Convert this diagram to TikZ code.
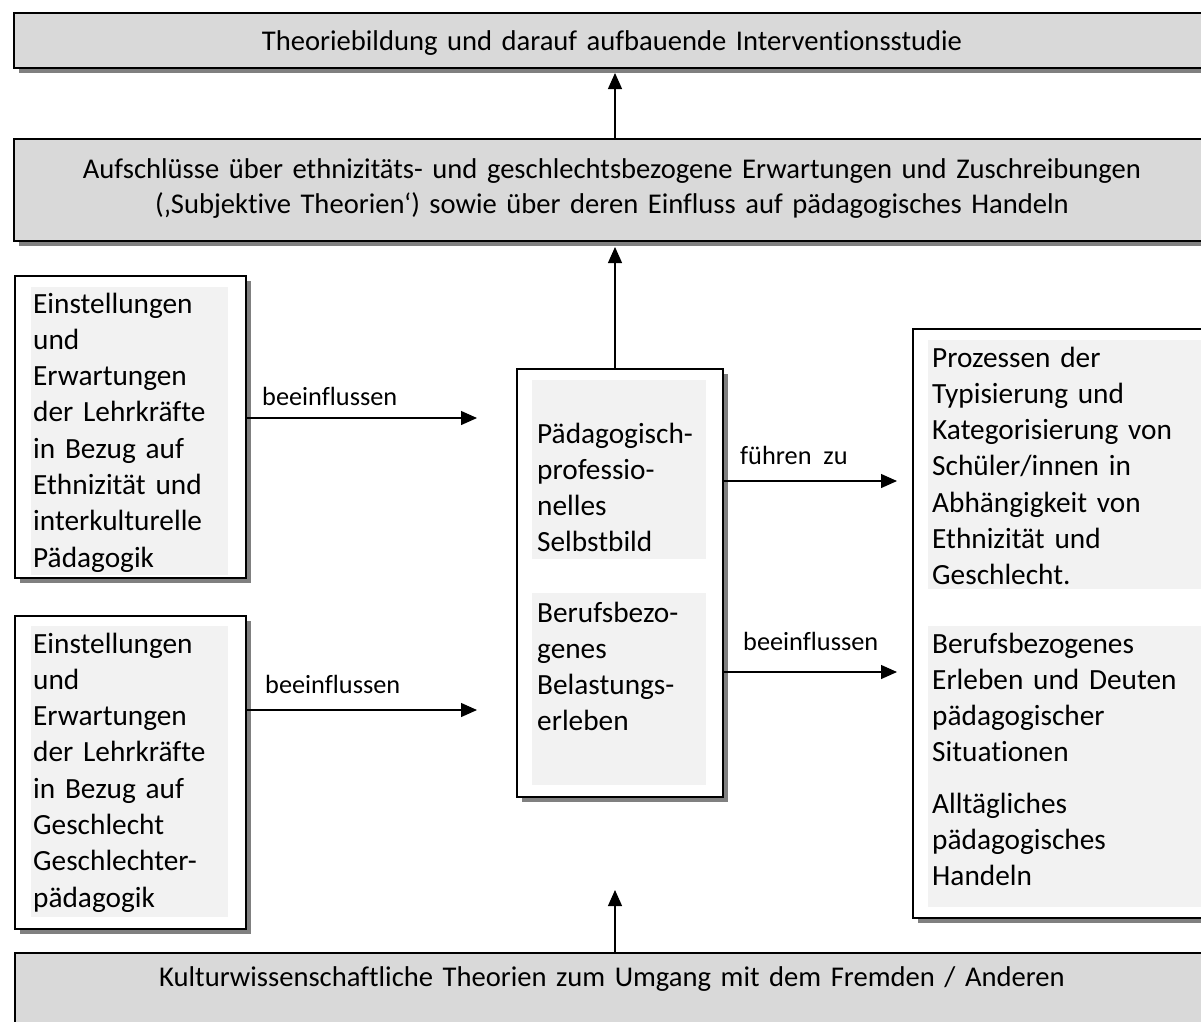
\documentclass[tikz,border=0pt]{standalone}
\usepackage{fontspec}
\setmainfont{Carlito}[Ligatures=NoCommon]
\usetikzlibrary{arrows.meta,shadows}
\definecolor{boxgray}{HTML}{D9D9D9}
\definecolor{innergray}{HTML}{F2F2F2}
\definecolor{shadowgray}{HTML}{808080}
\tikzset{
  outerbox/.style={draw=black, line width=1.5pt, inner sep=0pt, anchor=north west,
    drop shadow={shadow xshift=5pt, shadow yshift=-5pt, fill=shadowgray, opacity=1}},
  graybox/.style={outerbox, fill=boxgray},
  whitebox/.style={outerbox, fill=white},
  innerbox/.style={fill=innergray, draw=none, inner sep=0pt, anchor=north west},
  bodytext/.style={anchor=base west, inner sep=0pt, text width=#1, align=left,
    font=\fontsize{29.3}{36.3}\selectfont},
  headtext/.style={anchor=base, inner sep=0pt, text width=1180pt, align=center,
    font=\fontsize{28.6}{35}\selectfont},
  lbl/.style={anchor=base west, inner sep=0pt, font=\fontsize{26.3}{32}\selectfont},
  arr/.style={line width=1.2pt, -{Triangle[length=16pt,width=14pt]}},
}
\begin{document}
\begin{tikzpicture}[x=1pt,y=-1pt]
\clip (0,0) rectangle (1201,1021);
\fill[white] (0,0) rectangle (1201,1021);

% top boxes
\node[graybox, minimum width=1198pt, minimum height=55pt] (theory) at (13,12) {};
\node[headtext] (theoryt) at (612,50) {Theoriebildung und darauf aufbauende Interventionsstudie};

\node[graybox, minimum width=1198pt, minimum height=102pt] (insight) at (13,138) {};
\node[headtext] (insightt) at (612,178) {Aufschlüsse über ethnizitäts- und geschlechtsbezogene Erwartungen und Zuschreibungen\\(‚Subjektive Theorien‘) sowie über deren Einfluss auf pädagogisches Handeln};

% bottom box
\node[graybox, minimum width=1198pt, minimum height=90pt] (kultur) at (14,952) {};
\node[headtext] (kulturt) at (612,986) {Kulturwissenschaftliche Theorien zum Umgang mit dem Fremden / Anderen};

% left box 1
\node[whitebox, minimum width=231pt, minimum height=302pt] (lb1) at (14,275) {};
\node[innerbox, minimum width=197pt, minimum height=288pt] (lb1in) at (31,287) {};
\node[bodytext=195pt] (lb1t) at (33,313) {Einstellungen\\und\\Erwartungen\\der Lehrkräfte\\in Bezug auf\\Ethnizität und\\interkulturelle\\Pädagogik};

% left box 2
\node[whitebox, minimum width=231pt, minimum height=313pt] (lb2) at (14,615) {};
\node[innerbox, minimum width=197pt, minimum height=291pt] (lb2in) at (31,626) {};
\node[bodytext=195pt] (lb2t) at (33,653) {Einstellungen\\und\\Erwartungen\\der Lehrkräfte\\in Bezug auf\\Geschlecht\\Geschlechter-\\pädagogik};

% center box
\node[whitebox, minimum width=206pt, minimum height=428pt] (cb) at (516,368) {};
\node[innerbox, minimum width=174pt, minimum height=179pt] (cbin1) at (532,380) {};
\node[innerbox, minimum width=174pt, minimum height=192pt] (cbin2) at (532,593) {};
\node[bodytext=170pt] (cbt1) at (537,443) {Pädagogisch-\\professio-\\nelles\\Selbstbild};
\node[bodytext=170pt] (cbt2) at (537,622) {Berufsbezo-\\genes\\Belastungs-\\erleben};

% right box
\node[whitebox, minimum width=308pt, minimum height=589pt] (rb) at (912,328) {};
\node[innerbox, minimum width=280pt, minimum height=249pt] (rbin1) at (928,340) {};
\node[innerbox, minimum width=280pt, minimum height=281pt] (rbin2) at (928,626) {};
\node[bodytext=265pt] (rbt1) at (932,367) {Prozessen der\\Typisierung und\\Kategorisierung von\\Schüler/innen in\\Abhängigkeit von\\Ethnizität und\\Geschlecht.};
\node[bodytext=265pt] (rbt2) at (932,653) {Berufsbezogenes\\Erleben und Deuten\\pädagogischer\\Situationen\\[15pt]Alltägliches\\pädagogisches\\Handeln};

% arrow end points
\coordinate (e1) at (477,418);
\coordinate (e2) at (477,710);
\coordinate (e3) at (897,481);
\coordinate (e4) at (897,672);
\coordinate (u1s) at (615,368);
\coordinate (u1e) at (615,247);
\coordinate (u2s) at (615,138);
\coordinate (u2e) at (615,73);
\coordinate (u3s) at (615,952);
\coordinate (u3e) at (615,890);

% connectors
\draw[arr] (lb1.east |- e1) -- (e1);
\draw[arr] (lb2.east |- e2) -- (e2);
\draw[arr] (cb.east |- e3) -- (e3);
\draw[arr] (cb.east |- e4) -- (e4);
\draw[arr] (cb.north -| u1s) -- (u1e);
\draw[arr] (insight.north -| u2s) -- (u2e);
\draw[arr] (kultur.north -| u3s) -- (u3e);

% labels
\node[lbl] (l1) at (262,405) {beeinflussen};
\node[lbl] (l2) at (265,693) {beeinflussen};
\node[lbl] (l3) at (740,464) {führen\ \ zu};
\node[lbl] (l4) at (743,650) {beeinflussen};
\end{tikzpicture}
\end{document}
